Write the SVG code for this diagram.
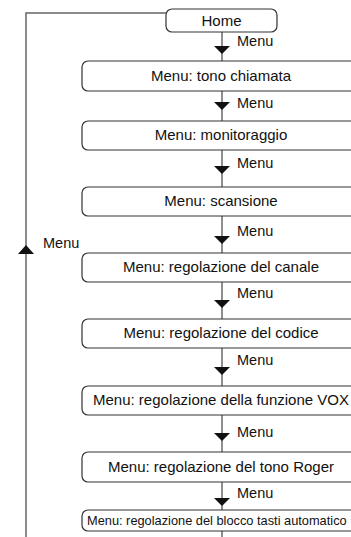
<svg xmlns="http://www.w3.org/2000/svg" width="351" height="537" viewBox="0 0 351 537">
<style>
.box{fill:#fff;stroke:#333;stroke-width:1.2}
.t{font-family:"Liberation Sans",Arial,sans-serif;font-size:15px;fill:#111;text-anchor:middle}
.ts{font-family:"Liberation Sans",Arial,sans-serif;font-size:12.8px;fill:#111}
.lb{font-family:"Liberation Sans",Arial,sans-serif;font-size:14.5px;fill:#111}
.ln{fill:none;stroke:#444;stroke-width:1.2}
.lg{fill:none;stroke:#666;stroke-width:1.5}
.ah{fill:#111}
</style>
<rect width="351" height="537" fill="#fff"/>
<g id="connectors">
<path class="lg" d="M166,13 H26 V537"/>
<path class="ah" d="M26,245 L18,254 L34,254 Z"/>
<text class="lb" x="43" y="248">Menu</text>
<path class="ln" d="M222,32 V61"/>
<path class="ah" d="M222,54 L214,46 L230,46 Z"/>
<text class="lb" x="237" y="46">Menu</text>
<path class="ln" d="M222,91 V121"/>
<path class="ah" d="M222,110 L214,102 L230,102 Z"/>
<text class="lb" x="237" y="108">Menu</text>
<path class="ln" d="M222,150 V187"/>
<path class="ah" d="M222,174 L214,166 L230,166 Z"/>
<text class="lb" x="237" y="168">Menu</text>
<path class="ln" d="M222,216 V253"/>
<path class="ah" d="M222,244 L214,236 L230,236 Z"/>
<text class="lb" x="237" y="236">Menu</text>
<path class="ln" d="M222,282 V319"/>
<path class="ah" d="M222,308 L214,300 L230,300 Z"/>
<text class="lb" x="237" y="298">Menu</text>
<path class="ln" d="M222,348 V386"/>
<path class="ah" d="M222,375 L214,367 L230,367 Z"/>
<text class="lb" x="237" y="365">Menu</text>
<path class="ln" d="M222,415 V452"/>
<path class="ah" d="M222,441 L214,433 L230,433 Z"/>
<text class="lb" x="237" y="437">Menu</text>
<path class="ln" d="M222,482 V510"/>
<path class="ah" d="M222,506 L214,498 L230,498 Z"/>
<text class="lb" x="237" y="498">Menu</text>
<path class="ln" d="M222,531 V537"/>
</g>
<g id="home"><rect class="box" x="166" y="9" width="111" height="23" rx="6"/><text class="t" x="221.5" y="26">Home</text></g>
<g id="n1"><rect class="box" x="82" y="61" width="280" height="30" rx="6"/><text class="t" x="221" y="81">Menu: tono chiamata</text></g>
<g id="n2"><rect class="box" x="82" y="121" width="280" height="29" rx="6"/><text class="t" x="221" y="140">Menu: monitoraggio</text></g>
<g id="n3"><rect class="box" x="82" y="187" width="280" height="29" rx="6"/><text class="t" x="221" y="206">Menu: scansione</text></g>
<g id="n4"><rect class="box" x="82" y="253" width="280" height="29" rx="6"/><text class="t" x="221" y="272">Menu: regolazione del canale</text></g>
<g id="n5"><rect class="box" x="82" y="319" width="280" height="29" rx="6"/><text class="t" x="221" y="338">Menu: regolazione del codice</text></g>
<g id="n6"><rect class="box" x="82" y="386" width="280" height="29" rx="6"/><text class="t" x="221" y="405">Menu: regolazione della funzione VOX</text></g>
<g id="n7"><rect class="box" x="82" y="452" width="280" height="30" rx="6"/><text class="t" x="221" y="472">Menu: regolazione del tono Roger</text></g>
<g id="n8"><rect class="box" x="82" y="510" width="280" height="21" rx="6"/><text class="ts" x="87" y="525">Menu: regolazione del blocco tasti automatico</text></g>
</svg>
